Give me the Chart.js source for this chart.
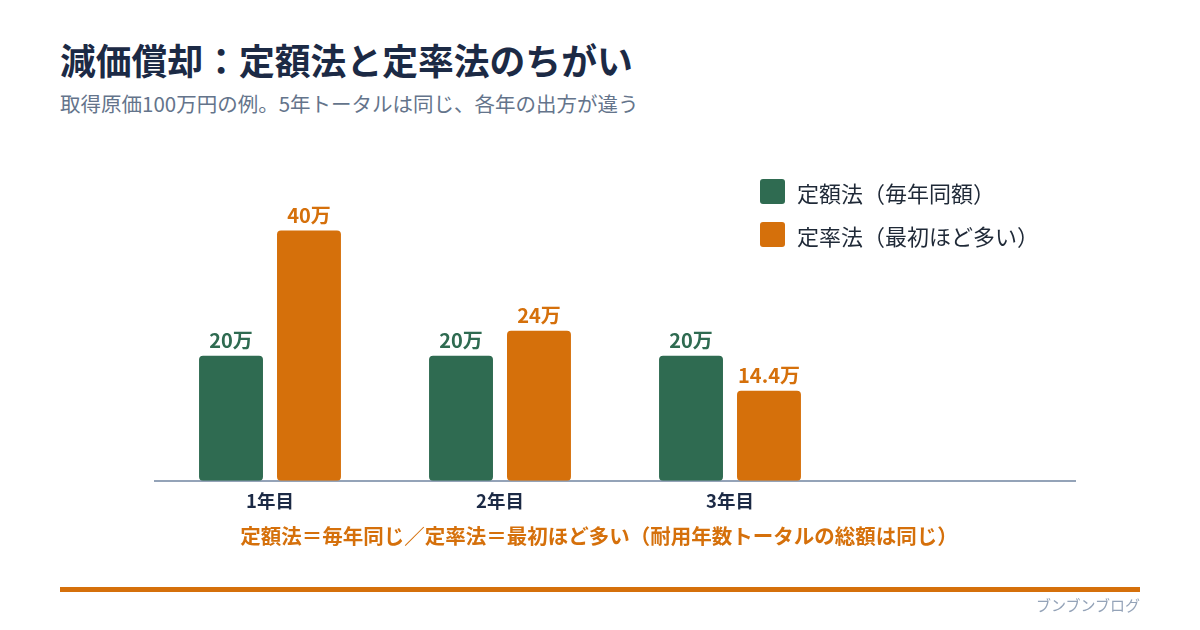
<!DOCTYPE html>
<html lang="ja">
<head>
<meta charset="UTF-8">
<title>減価償却：定額法と定率法のちがい</title>
<script src="https://cdn.jsdelivr.net/npm/chart.js"></script>
<style>
    html, body { margin: 0; padding: 0; background: #fff; }
    body { width: 1200px; height: 630px; position: relative; overflow: hidden;
           font-family: "Noto Sans CJK JP", "Noto Sans", sans-serif; }
    .title { position: absolute; left: 60px; top: 38px; font-size: 35.8px; font-weight: 700; color: #1c2a45; margin: 0; line-height: 1.2; }
    .subtitle { position: absolute; left: 60px; top: 90px; font-size: 20.5px; color: #64748b; margin: 0; line-height: 1.3; }
    #chart-box { position: absolute; left: 0; top: 0; width: 1200px; height: 630px; }
    .legend { position: absolute; left: 760px; top: 170px; }
    .legend-item { display: flex; align-items: center; height: 43px; font-size: 22px; color: #1f2937; }
    .legend-box { width: 25px; height: 25px; border-radius: 3px; margin-right: 12px; }
    .note { position: absolute; left: 0; width: 1198px; top: 520px; text-align: center; font-size: 20.5px; font-weight: 700; color: #d5700b; }
    .rule { position: absolute; left: 60px; width: 1080px; top: 587px; height: 5px; background: #d5700b; }
    .brand { position: absolute; right: 60px; top: 594px; font-size: 15px; color: #94a3b8; }
</style>
</head>
<body>
<h1 class="title">減価償却：定額法と定率法のちがい</h1>
<p class="subtitle">取得原価100万円の例。5年トータルは同じ、各年の出方が違う</p>

<div id="chart-box"><canvas id="deprChart" width="1200" height="630"></canvas></div>
<div class="legend" id="legend"></div>

<div class="note">定額法＝毎年同じ／定率法＝最初ほど多い（耐用年数トータルの総額は同じ）</div>
<div class="rule"></div>
<div class="brand">ブンブンブログ</div>

<script>
    // データ (単位: 万円)
    const years = ['1年目', '2年目', '3年目', ''];
    const straightLine = [20, 20, 20, null];      // 定額法
    const decliningBalance = [40, 24, 14.4, null]; // 定率法
    const seriesNames = ['定額法（毎年同額）', '定率法（最初ほど多い）'];
    const seriesColors = ['#2f6b51', '#d5700b'];

    // 棒の上に金額ラベル
    const valueLabels = {
        id: 'valueLabels',
        afterDatasetsDraw(chart) {
            const c = chart.ctx;
            c.save();
            c.font = 'bold 20px "Noto Sans CJK JP", sans-serif';
            c.textAlign = 'center';
            c.textBaseline = 'bottom';
            chart.data.datasets.forEach((ds, i) => {
                chart.getDatasetMeta(i).data.forEach((bar, j) => {
                    const v = ds.data[j];
                    if (v == null) return;
                    c.fillStyle = ds.backgroundColor;
                    c.fillText(v + '万', bar.x, bar.y - 5);
                });
            });
            c.restore();
        }
    };

    const ctx = document.getElementById('deprChart').getContext('2d');
    const chart = new Chart(ctx, {
        type: 'bar',
        data: {
            labels: years,
            datasets: [
                { label: seriesNames[0], data: straightLine, backgroundColor: seriesColors[0] },
                { label: seriesNames[1], data: decliningBalance, backgroundColor: seriesColors[1] }
            ]
        },
        options: {
            responsive: false,
            animation: false,
            layout: { padding: { left: 155, right: 125, top: 168, bottom: 109 } },
            datasets: {
                bar: {
                    categoryPercentage: 0.678,
                    barPercentage: 0.82,
                    borderRadius: 4,
                    borderSkipped: false
                }
            },
            plugins: {
                legend: { display: false },
                tooltip: { enabled: false }
            },
            scales: {
                x: {
                    grid: { display: false, drawTicks: false, tickLength: 0 },
                    border: { display: true, color: '#94a3b8', width: 2 },
                    ticks: {
                        color: '#1c2a45',
                        padding: 9,
                        font: { family: '"Noto Sans CJK JP", sans-serif', size: 18.5, weight: 'bold' }
                    }
                },
                y: {
                    display: false,
                    min: 0,
                    max: 50
                }
            }
        },
        plugins: [valueLabels]
    });

    // 凡例 (HTML)
    const legendEl = document.getElementById('legend');
    seriesNames.forEach((name, i) => {
        const item = document.createElement('div');
        item.className = 'legend-item';
        item.innerHTML = '<span class="legend-box" style="background:' + seriesColors[i] + '"></span>' + name;
        legendEl.appendChild(item);
    });
</script>
</body>
</html>
